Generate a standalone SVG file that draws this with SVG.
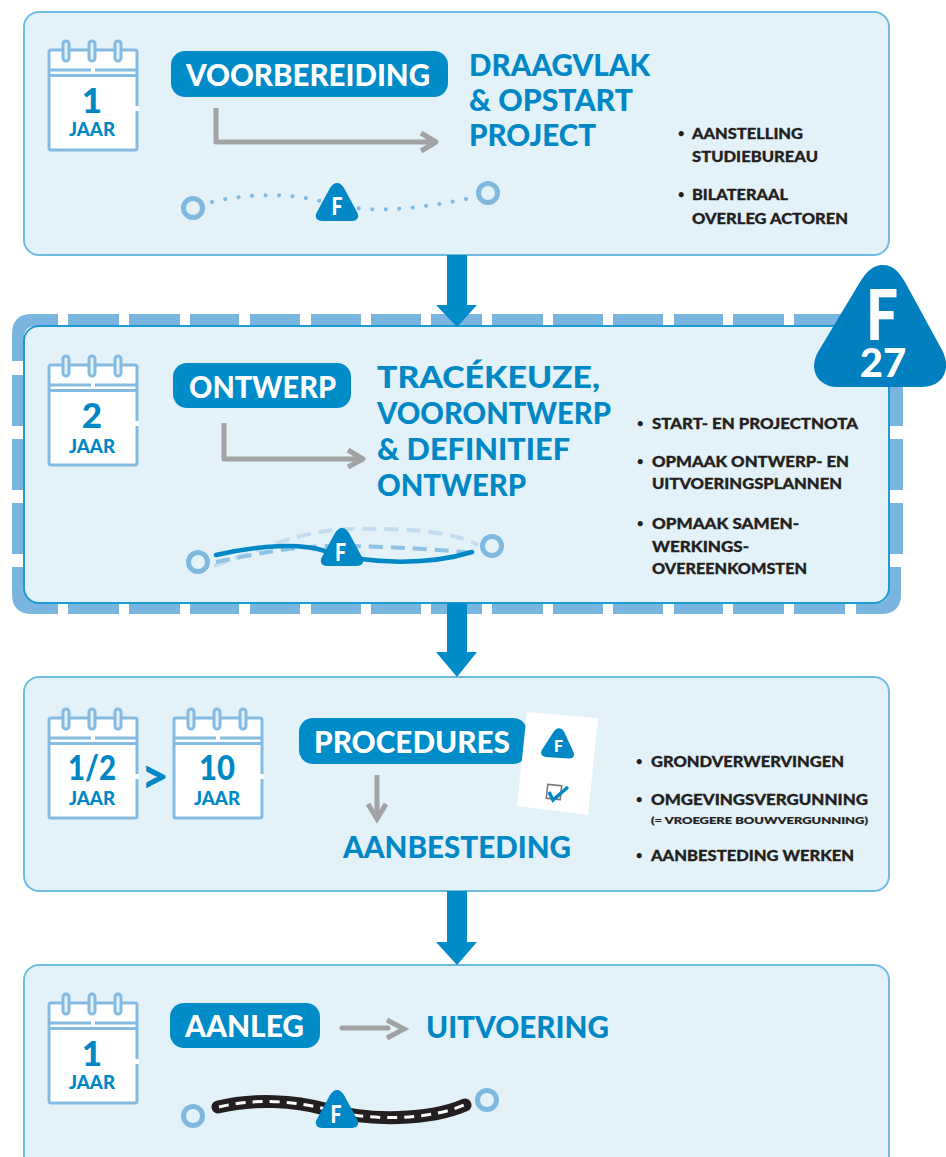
<svg xmlns="http://www.w3.org/2000/svg" xmlns:xlink="http://www.w3.org/1999/xlink" width="946" height="1157" viewBox="0 0 946 1157">
<style>
text{font-family:"Lato","Liberation Sans",sans-serif;font-weight:900}
.box{fill:#e3f1f8;stroke:#6fbbe2;stroke-width:2}
.pill{fill:#008cc8}
.pt{fill:#fff;font-size:31px}
.h{fill:#0088c6;font-size:31px}
.b{fill:#231f20;font-size:15px;stroke:#231f20;stroke-width:.3px}
.d{fill:#231f20;font-size:11px}
.num{fill:#0088c6;font-size:35px;text-anchor:middle}
.yr{fill:#0088c6;font-size:18px;text-anchor:middle}
.f{fill:#fff;font-size:24px}
.gray{fill:none;stroke:#a1a3a4;stroke-width:5}
.tri{fill:#0088c6}
.o{fill:none;stroke:#7fb9e0;stroke-width:5}
.flow{fill:#008cc8}
</style>
<defs>
<g id="cal">
<rect x="1" y="10" width="88" height="100" rx="2" fill="#fff" stroke="#83bbe2" stroke-width="3"/>
<path d="M1 30H43M47 30H89M1 35.500H89" fill="none" stroke="#83bbe2" stroke-width="3"/>
<g fill="#e3f1f8" stroke="#83bbe2" stroke-width="3">
<rect x="15" y="1" width="6" height="20" rx="3"/><rect x="41" y="1" width="6" height="20" rx="3"/><rect x="67" y="1" width="6" height="20" rx="3"/>
</g>
<rect x="87" y="66" width="4" height="5" fill="#fff"/>
</g>
<path id="tri" d="M21 0C24 0 26 2 28 5L41 29C44 34 41 38 36 38H6C1 38 -2 34 1 29L14 5C16 2 18 0 21 0Z"/>
</defs>

<g id="stap-voorbereiding">
<rect class="box" x="24" y="12" width="865" height="243" rx="15"/>
<use href="#cal" xlink:href="#cal" x="48" y="40"/>
<text class="num" x="92" y="113">1</text>
<text class="yr" x="92" y="136" textLength="46" lengthAdjust="spacingAndGlyphs">JAAR</text>
<rect class="pill" x="171" y="51" width="277" height="46" rx="14"/>
<text class="pt" x="186" y="85.500" textLength="244" lengthAdjust="spacingAndGlyphs">VOORBEREIDING</text>
<path class="gray" d="M216 108V142H435M421 133L436 142L421 151" stroke-linejoin="round"/>
<text class="h" x="469" y="76" textLength="181" lengthAdjust="spacingAndGlyphs">DRAAGVLAK</text>
<text class="h" x="469" y="111" textLength="164" lengthAdjust="spacingAndGlyphs">&amp; OPSTART</text>
<text class="h" x="469" y="146" textLength="127" lengthAdjust="spacingAndGlyphs">PROJECT</text>
<text class="d" x="678" y="137">•</text>
<text class="b" x="692" y="139" textLength="111" lengthAdjust="spacingAndGlyphs">AANSTELLING</text>
<text class="b" x="692" y="162" textLength="126" lengthAdjust="spacingAndGlyphs">STUDIEBUREAU</text>
<text class="d" x="678" y="198">•</text>
<text class="b" x="692" y="200" textLength="96" lengthAdjust="spacingAndGlyphs">BILATERAAL</text>
<text class="b" x="692" y="224" textLength="156" lengthAdjust="spacingAndGlyphs">OVERLEG ACTOREN</text>
<circle class="o" cx="193" cy="208" r="9.500"/>
<circle class="o" cx="488" cy="193" r="9.500"/>
<path d="M212 202C250 193 290 193 320 201C370 216 420 208 472 198" fill="none" stroke="#7fbbe2" stroke-width="4" stroke-linecap="round" stroke-dasharray="0.100 13.400"/>
<use href="#tri" xlink:href="#tri" class="tri" x="316" y="183"/>
<text class="f" x="331.500" y="215" textLength="11" lengthAdjust="spacingAndGlyphs">F</text>
</g>

<g id="stap-ontwerp">
<path fill="#79b5de" d="M58 314V326H36Q24 326 24 338V361H12V334Q12 314 32 314ZM68 314H119V326H68ZM129 314H180V326H129ZM190 314H239V326H190ZM250 314H300V326H250ZM311 314H361V326H311ZM371 314H421V326H371ZM431 314H482V326H431ZM492 314H543V326H492ZM553 314H603V326H553ZM613 314H663V326H613ZM674 314H723V326H674ZM733 314H784V326H733ZM794 314H850V326H794ZM12 375H24V426H12ZM12 439H24V490H12ZM12 503H24V554H12ZM12 567H24V583Q24 603 40 603H58V614H32Q12 614 12 594ZM889 375H903V426H889ZM889 439H903V490H889ZM889 503H903V554H889ZM889 567H901V594Q901 614 881 614H856V603H875Q889 603 889 589ZM68 603H119V614H68ZM129 603H180V614H129ZM190 603H239V614H190ZM250 603H300V614H250ZM311 603H361V614H311ZM371 603H421V614H371ZM431 603H482V614H431ZM492 603H543V614H492ZM553 603H603V614H553ZM613 603H663V614H613ZM674 603H723V614H674ZM733 603H784V614H733ZM794 603H845V614H794Z"/>
<rect x="24" y="326" width="865" height="277" rx="15" fill="#e3f1f8" stroke="#1e9ad6" stroke-width="2"/>
<use href="#cal" xlink:href="#cal" x="48" y="355"/>
<text class="num" x="92" y="428">2</text>
<text class="yr" x="92" y="453" textLength="46" lengthAdjust="spacingAndGlyphs">JAAR</text>
<rect class="pill" x="173" y="363" width="178" height="45" rx="14"/>
<text class="pt" x="189" y="397.500" textLength="147" lengthAdjust="spacingAndGlyphs">ONTWERP</text>
<path class="gray" d="M224 423V459H362M348 450L363 459L348 467" stroke-linejoin="round"/>
<text class="h" x="377" y="388" textLength="223" lengthAdjust="spacingAndGlyphs">TRACÉKEUZE,</text>
<text class="h" x="377" y="424" textLength="234" lengthAdjust="spacingAndGlyphs">VOORONTWERP</text>
<text class="h" x="377" y="460" textLength="193" lengthAdjust="spacingAndGlyphs">&amp; DEFINITIEF</text>
<text class="h" x="377" y="496" textLength="149" lengthAdjust="spacingAndGlyphs">ONTWERP</text>
<text class="d" x="637" y="427">•</text>
<text class="b" x="652" y="429" textLength="206" lengthAdjust="spacingAndGlyphs">START- EN PROJECTNOTA</text>
<text class="d" x="637" y="465">•</text>
<text class="b" x="652" y="467" textLength="197" lengthAdjust="spacingAndGlyphs">OPMAAK ONTWERP- EN</text>
<text class="b" x="652" y="489" textLength="190" lengthAdjust="spacingAndGlyphs">UITVOERINGSPLANNEN</text>
<text class="d" x="637" y="527">•</text>
<text class="b" x="652" y="529" textLength="147" lengthAdjust="spacingAndGlyphs">OPMAAK SAMEN-</text>
<text class="b" x="652" y="552" textLength="97" lengthAdjust="spacingAndGlyphs">WERKINGS-</text>
<text class="b" x="652" y="574" textLength="155" lengthAdjust="spacingAndGlyphs">OVEREENKOMSTEN</text>
<circle class="o" cx="198" cy="562" r="9.500"/>
<circle class="o" cx="492" cy="546" r="9.500"/>
<path d="M214 566C260 550 300 530 350 529C400 528 450 530 478 545" fill="none" stroke="#c4dcf0" stroke-width="4" stroke-dasharray="14 8"/>
<path d="M216 562C260 553 300 545 340 546C390 546 440 550 474 553" fill="none" stroke="#8dc3e6" stroke-width="4" stroke-dasharray="14 8"/>
<path d="M216 555C260 545 300 543 325 551C370 565 430 565 472 552" fill="none" stroke="#0088c6" stroke-width="4.500" stroke-linecap="round"/>
<use href="#tri" xlink:href="#tri" class="tri" x="321" y="528"/>
<text class="f" x="335" y="561" textLength="11" lengthAdjust="spacingAndGlyphs">F</text>
</g>

<g id="stap-procedures">
<rect class="box" x="24" y="677" width="865" height="214" rx="15"/>
<use href="#cal" xlink:href="#cal" x="48" y="708"/>
<text class="num" x="92" y="780" textLength="48" lengthAdjust="spacingAndGlyphs">1/2</text>
<text class="yr" x="92" y="805" textLength="46" lengthAdjust="spacingAndGlyphs">JAAR</text>
<text x="155" y="793" text-anchor="middle" style="fill:#0088c6;font-size:48px">&gt;</text>
<use href="#cal" xlink:href="#cal" x="173" y="708"/>
<text class="num" x="217" y="780" textLength="36" lengthAdjust="spacingAndGlyphs">10</text>
<text class="yr" x="217" y="805" textLength="46" lengthAdjust="spacingAndGlyphs">JAAR</text>
<rect class="pill" x="299" y="718" width="228" height="46" rx="14"/>
<text class="pt" x="314" y="752.500" textLength="196" lengthAdjust="spacingAndGlyphs">PROCEDURES</text>
<path d="M527 712L598 718L588 815L517 806Z" fill="#fff"/>
<use href="#tri" xlink:href="#tri" class="tri" transform="translate(543 727) scale(.78) rotate(4)"/>
<text x="554" y="752" style="fill:#fff;font-size:16px">F</text>
<rect x="547" y="785" width="14" height="14" fill="none" stroke="#777" stroke-width="1.500" transform="rotate(6 554 792)"/>
<path d="M549 792L553 800L568 787" fill="none" stroke="#0088c6" stroke-width="3.500"/>
<path class="gray" d="M377 775V818M368 804L377 819L386 804"/>
<text class="h" x="343" y="858" textLength="228" lengthAdjust="spacingAndGlyphs">AANBESTEDING</text>
<text class="d" x="636" y="765">•</text>
<text class="b" x="651" y="767" textLength="193" lengthAdjust="spacingAndGlyphs">GRONDVERWERVINGEN</text>
<text class="d" x="636" y="803">•</text>
<text class="b" x="651" y="805" textLength="217" lengthAdjust="spacingAndGlyphs">OMGEVINGSVERGUNNING</text>
<text class="b" x="651" y="824" textLength="217" lengthAdjust="spacingAndGlyphs" style="font-size:9.500px;stroke-width:.2px">(= VROEGERE BOUWVERGUNNING)</text>
<text class="d" x="636" y="859">•</text>
<text class="b" x="651" y="861" textLength="203" lengthAdjust="spacingAndGlyphs">AANBESTEDING WERKEN</text>
</g>

<g id="stap-aanleg">
<rect class="box" x="24" y="965" width="865" height="215" rx="15"/>
<use href="#cal" xlink:href="#cal" x="48" y="993"/>
<text class="num" x="92" y="1066">1</text>
<text class="yr" x="92" y="1089" textLength="46" lengthAdjust="spacingAndGlyphs">JAAR</text>
<rect class="pill" x="170" y="1003" width="150" height="45" rx="14"/>
<text class="pt" x="185" y="1036.500" textLength="119" lengthAdjust="spacingAndGlyphs">AANLEG</text>
<path class="gray" d="M342 1028H388" stroke-width="6" stroke-linecap="round"/>
<path class="gray" d="M387 1020L404 1029L387 1038"/>
<text class="h" x="426" y="1038" textLength="183" lengthAdjust="spacingAndGlyphs">UITVOERING</text>
<circle class="o" cx="193" cy="1116" r="9.500"/>
<circle class="o" cx="487" cy="1100" r="9.500"/>
<path id="road" d="M218 1107C255 1098 295 1101 325 1109C370 1122 430 1120 465 1105" fill="none" stroke="#231f20" stroke-width="13" stroke-linecap="round"/>
<path d="M219 1107C255 1098 295 1101 325 1109C370 1122 430 1120 464 1105" fill="none" stroke="#fff" stroke-width="3" stroke-dasharray="10 7"/>
<use href="#tri" xlink:href="#tri" class="tri" x="316" y="1090"/>
<text class="f" x="330.500" y="1123" textLength="11" lengthAdjust="spacingAndGlyphs">F</text>
</g>

<g id="connectors">
<path class="flow" d="M447 255H467V305H477L457 327L436 305H447Z"/>
<path class="flow" d="M447 603H467V652H477L457 677L436 652H447Z"/>
<path class="flow" d="M447 891H467V942H477L457 965L436 942H447Z"/>
</g>

<g id="badge-f27">
<path d="M883 265C893 265 899 272 905 282L942 350C952 369 943 387 922 387H838C818 387 808 370 818 352L860 282C866 272 873 265 883 265Z" fill="#0080c0"/>
<text x="866" y="340" textLength="32" lengthAdjust="spacingAndGlyphs" style="fill:#fff;font-size:70px">F</text>
<text x="883" y="377" text-anchor="middle" style="fill:#fff;font-size:40px">27</text>
</g>
</svg>
